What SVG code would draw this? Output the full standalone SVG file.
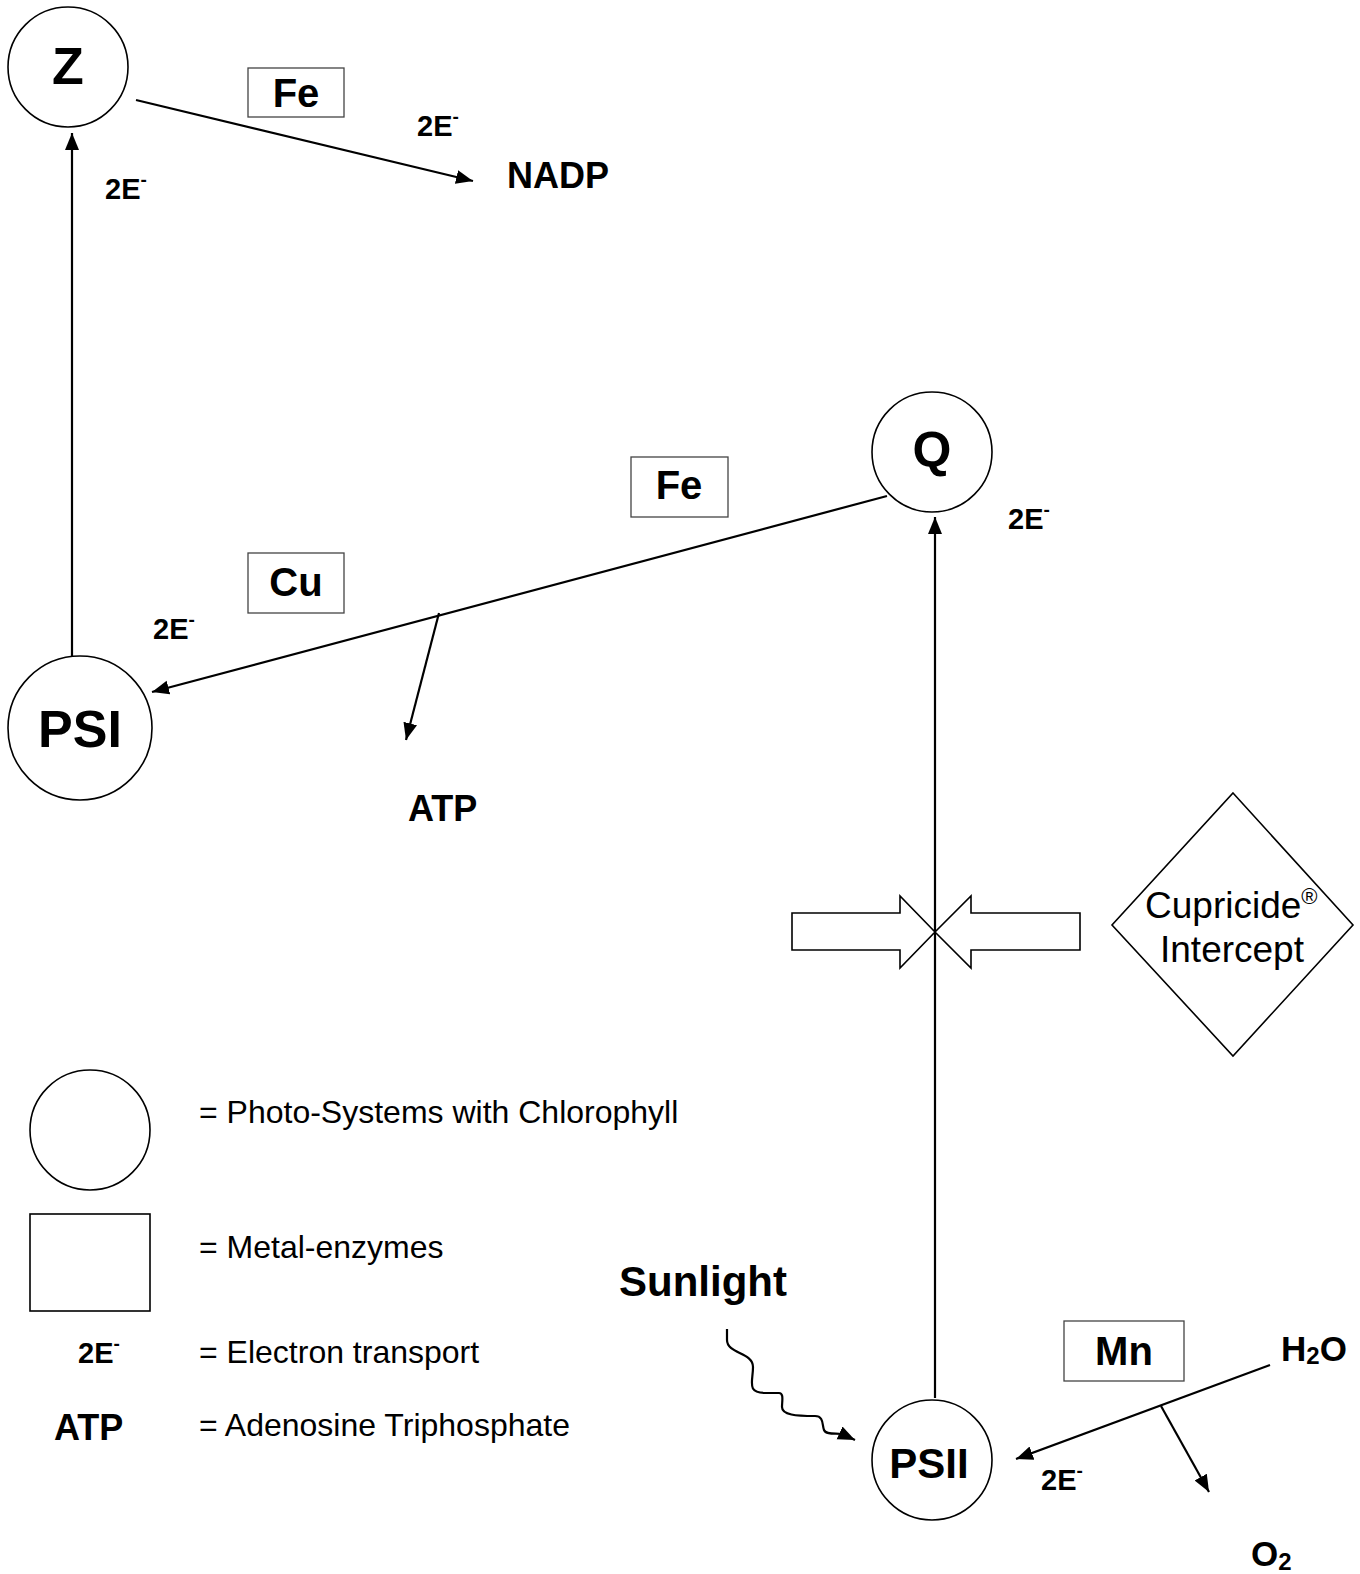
<svg xmlns="http://www.w3.org/2000/svg" width="1360" height="1574" viewBox="0 0 1360 1574">
<defs>
<marker id="ah" markerUnits="userSpaceOnUse" markerWidth="19" markerHeight="15" refX="17" refY="7" orient="auto">
<path d="M0,0 L17,7 L0,14 Z" fill="#000"/>
</marker>
<style>
.node{fill:#fff;stroke:#000;stroke-width:1.6}
.box{fill:#fff;stroke:#444;stroke-width:1.3}
.con{fill:none;stroke:#000;stroke-width:2.2}
.b{font-family:"Liberation Sans",Arial,sans-serif;font-weight:bold;fill:#000}
.r{font-family:"Liberation Sans",Arial,sans-serif;fill:#000}
.sup{font-size:19px}
</style>
</defs>
<rect width="1360" height="1574" fill="#fff"/>

<g id="connectors">
<line class="con" x1="136" y1="100" x2="473" y2="181" marker-end="url(#ah)"/>
<line class="con" x1="72" y1="658" x2="72" y2="133" marker-end="url(#ah)"/>
<line class="con" x1="887" y1="496" x2="152" y2="692" marker-end="url(#ah)"/>
<line class="con" x1="439" y1="613" x2="406" y2="740" marker-end="url(#ah)"/>
<line class="con" x1="935" y1="1398" x2="935" y2="517" marker-end="url(#ah)"/>
<line class="con" x1="1270" y1="1365" x2="1016" y2="1459" marker-end="url(#ah)"/>
<line class="con" x1="1161" y1="1406" x2="1209" y2="1492" marker-end="url(#ah)"/>
<path class="con" d="M727,1329 L727,1340 C727,1354 753,1352 753,1367 C753,1382 746,1393 766,1393 L779,1393 C784,1393 782,1401 782,1407 C782,1415 796,1416 815,1416 C824,1416 822,1425 824,1430 C826,1435 836,1433 842,1434 L855,1440" marker-end="url(#ah)"/>
</g>

<g id="Z">
<circle class="node" cx="68" cy="67" r="60"/>
<text class="b" x="68" y="84" font-size="52" text-anchor="middle">Z</text>
</g>
<g id="Fe1">
<rect class="box" x="248" y="68" width="96" height="49"/>
<text class="b" x="296" y="107" font-size="40" text-anchor="middle">Fe</text>
</g>
<g id="label-2e-1"><text class="b" x="417" y="136" font-size="29">2E<tspan class="sup" dy="-13">-</tspan></text></g>
<g id="NADP"><text class="b" x="507" y="188" font-size="36">NADP</text></g>
<g id="label-2e-2"><text class="b" x="105" y="199" font-size="29">2E<tspan class="sup" dy="-13">-</tspan></text></g>

<g id="Q">
<circle class="node" cx="932" cy="452" r="60"/>
<text class="b" x="932" y="467" font-size="50" text-anchor="middle">Q</text>
</g>
<g id="Fe2">
<rect class="box" x="631" y="457" width="97" height="60"/>
<text class="b" x="679" y="499" font-size="40" text-anchor="middle">Fe</text>
</g>
<g id="label-2e-3"><text class="b" x="1008" y="529" font-size="29">2E<tspan class="sup" dy="-13">-</tspan></text></g>
<g id="Cu">
<rect class="box" x="248" y="553" width="96" height="60"/>
<text class="b" x="296" y="596" font-size="40" text-anchor="middle">Cu</text>
</g>
<g id="label-2e-4"><text class="b" x="153" y="639" font-size="29">2E<tspan class="sup" dy="-13">-</tspan></text></g>

<g id="PSI">
<circle class="node" cx="80" cy="728" r="72"/>
<text class="b" x="80" y="747" font-size="52" text-anchor="middle">PSI</text>
</g>
<g id="ATP"><text class="b" x="408" y="821" font-size="36">ATP</text></g>

<g id="block-arrows">
<path class="node" d="M792,913 L900,913 L900,896 L935,932 L900,968 L900,950 L792,950 Z"/>
<path class="node" d="M1080,913 L971,913 L971,896 L935,932 L971,968 L971,950 L1080,950 Z"/>
</g>

<g id="Cupricide">
<path class="node" d="M1233,793 L1353,925 L1233,1056 L1112,925 Z"/>
<text class="r" x="1145" y="918" font-size="37">Cupricide<tspan font-size="22" dy="-14">®</tspan></text>
<text class="r" x="1232" y="962" font-size="37" text-anchor="middle">Intercept</text>
</g>

<g id="legend">
<circle class="node" cx="90" cy="1130" r="60"/>
<text class="r" x="199" y="1123" font-size="32">= Photo-Systems with Chlorophyll</text>
<rect class="node" x="30" y="1214" width="120" height="97"/>
<text class="r" x="199" y="1258" font-size="32">= Metal-enzymes</text>
<text class="b" x="78" y="1363" font-size="29">2E<tspan class="sup" dy="-13">-</tspan></text>
<text class="r" x="199" y="1363" font-size="32">= Electron transport</text>
<text class="b" x="54" y="1440" font-size="36">ATP</text>
<text class="r" x="199" y="1436" font-size="32">= Adenosine Triphosphate</text>
</g>

<g id="Sunlight"><text class="b" x="619" y="1296" font-size="42">Sunlight</text></g>

<g id="PSII">
<circle class="node" cx="932" cy="1460" r="60"/>
<text class="b" x="929" y="1478" font-size="42" text-anchor="middle">PSII</text>
</g>
<g id="Mn">
<rect class="box" x="1064" y="1321" width="120" height="60"/>
<text class="b" x="1124" y="1365" font-size="40" text-anchor="middle">Mn</text>
</g>
<g id="H2O"><text class="b" x="1281" y="1361" font-size="35">H<tspan font-size="24" dy="3">2</tspan><tspan dy="-3">O</tspan></text></g>
<g id="label-2e-5"><text class="b" x="1041" y="1490" font-size="29">2E<tspan class="sup" dy="-13">-</tspan></text></g>
<g id="O2"><text class="b" x="1251" y="1566" font-size="35">O<tspan font-size="24" dy="4">2</tspan></text></g>
</svg>
